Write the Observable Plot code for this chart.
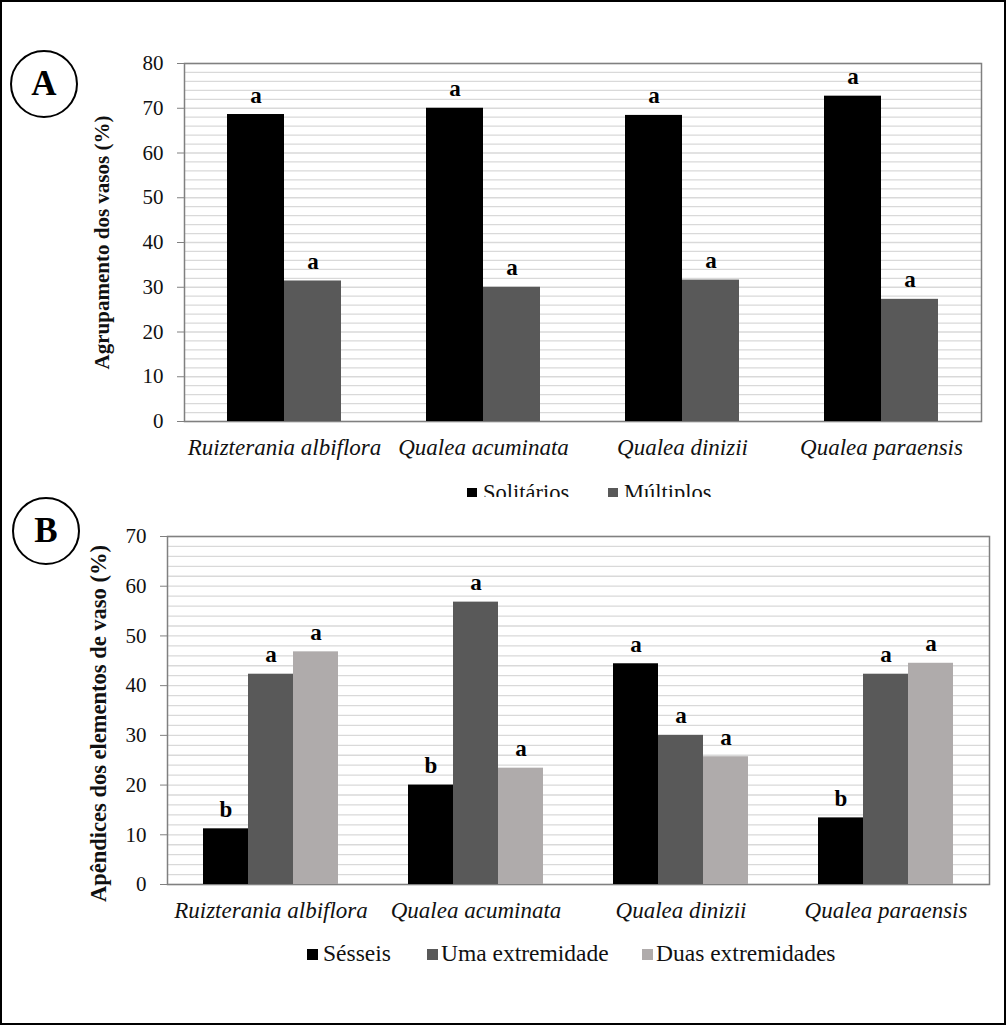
<!DOCTYPE html>
<html>
<head>
<meta charset="utf-8">
<script src="https://cdn.jsdelivr.net/npm/d3@7"></script>
<script src="https://cdn.jsdelivr.net/npm/@observablehq/plot@0.6"></script>
<style>
  body { margin: 0; background: #fff; }
  #fig { position: relative; width: 1006px; height: 1025px; overflow: hidden; background: #fff;
         font-family: "Liberation Serif", "Times New Roman", serif; }
  .outer { position: absolute; left: 0; top: 0; width: 1006px; height: 1025px; box-sizing: border-box;
           border: 2px solid #000; pointer-events: none; }
  .panel { position: absolute; left: 0; width: 1006px; }
  .panel svg { position: absolute; left: 0; top: 0; }
  .circ { position: absolute; box-sizing: border-box; border: 2px solid #000; border-radius: 50%;
          display: flex; align-items: center; justify-content: center;
          font: bold 35px "Liberation Serif", "Times New Roman", serif; color: #000; }
  .leg { position: absolute; left: 0; width: 1006px; overflow: hidden; }
  .sq { position: absolute; }
  .lt { position: absolute; color: #111; white-space: nowrap; font-family: "Liberation Serif", "Times New Roman", serif; }
  svg g[aria-label="y-axis label"] text { font-weight: bold; fill: #111; }
  #panelA svg g[aria-label="y-axis label"] text { font-size: 21px; }
  #panelB svg g[aria-label="y-axis label"] text { font-size: 22.5px; }
</style>
</head>
<body>
<div id="fig"></div>
<script>
// ---------- data ----------
const species = ["Ruizterania albiflora", "Qualea acuminata", "Qualea dinizii", "Qualea paraensis"];

const groupsA = ["Solitários", "Múltiplos"];
const solitarios = [68.6, 70.0, 68.4, 72.7];
const multiplos = [31.4, 30.0, 31.6, 27.3];
const lettersSolitarios = ["a", "a", "a", "a"];
const lettersMultiplos = ["a", "a", "a", "a"];

const groupsB = ["Sésseis", "Uma extremidade", "Duas extremidades"];
const sesseis = [11.2, 20.0, 44.4, 13.4];
const umaExtremidade = [42.3, 56.8, 30.0, 42.3];
const duasExtremidades = [46.8, 23.4, 25.7, 44.5];
const lettersSesseis = ["b", "b", "a", "b"];
const lettersUma = ["a", "a", "a", "a"];
const lettersDuas = ["a", "a", "a", "a"];

const yTicksA = [0, 10, 20, 30, 40, 50, 60, 70, 80];
const yTicksB = [0, 10, 20, 30, 40, 50, 60, 70];
const gridA = d3.range(0, 81, 2);
const gridB = d3.range(0, 71, 2);

const colorsA = ["#000000", "#595959"];
const colorsB = ["#000000", "#595959", "#afabab"];

const titleA = "Agrupamento dos vasos (%)";
const titleB = "Apêndices dos elementos de vaso (%)";

// ---------- tables ----------
const seriesA = [solitarios, multiplos];
const lettersA = [lettersSolitarios, lettersMultiplos];
const dataA = species.flatMap((s, i) => groupsA.map((g, j) => ({species: s, group: g, value: seriesA[j][i], letter: lettersA[j][i]})));

const seriesB = [sesseis, umaExtremidade, duasExtremidades];
const lettersB = [lettersSesseis, lettersUma, lettersDuas];
const dataB = species.flatMap((s, i) => groupsB.map((g, j) => ({species: s, group: g, value: seriesB[j][i], letter: lettersB[j][i]})));

const FONT = '"Liberation Serif", "Times New Roman", serif';
const fig = document.getElementById("fig");

function panel({id, top, data, groups, colors, yMax, ticks, grid, title, height, mt, mb, ml, mr, pad, labelOffset, labelShift}) {
  const common = {
    width: 1006, height,
    marginLeft: ml, marginRight: mr, marginTop: mt, marginBottom: mb,
    style: {fontFamily: FONT, fontSize: "21px", color: "#111", background: "transparent", overflow: "visible"}
  };
  // background layer: grid, frame, y axis
  const back = Plot.plot({
    ...common,
    y: {domain: [0, yMax]},
    marks: [
      Plot.ruleY(grid, {stroke: "#d9d9d9", strokeWidth: 1.3}),
      Plot.frame({stroke: "#808080", strokeWidth: 1.5}),
      Plot.axisY(ticks, {tickSize: 7, tickPadding: 14, stroke: "#808080", fill: "#111", fontSize: 21,
                         label: title, labelAnchor: "center", labelOffset, labelArrow: "none"})
    ]
  });
  if (labelShift) {
    const g = back.querySelector('g[aria-label="y-axis label"]');
    if (g) g.setAttribute("transform", ((g.getAttribute("transform") || "") + ` translate(0,${labelShift})`).trim());
  }
  // foreground layer: grouped bars
  const front = Plot.plot({
    ...common,
    fx: {domain: species, paddingInner: pad, paddingOuter: pad / 2, label: null},
    x: {domain: groups, padding: 0, axis: null},
    y: {domain: [0, yMax], axis: null},
    color: {domain: groups, range: colors},
    marks: [
      Plot.barY(data, {fx: "species", x: "group", y: "value", fill: "group"}),
      Plot.text(data, {fx: "species", x: "group", y: "value", text: "letter", lineAnchor: "bottom", dy: -12,
                       fontWeight: "bold", fontSize: 23, fill: "#000"}),
      Plot.axisFx({anchor: "bottom", tickSize: 0, tickPadding: 17, fontStyle: "italic", fontSize: 23, fill: "#111", label: null})
    ]
  });
  const w = document.createElement("div");
  w.id = id;
  w.className = "panel"; w.style.top = top + "px"; w.style.height = height + "px";
  w.appendChild(back); w.appendChild(front);
  fig.appendChild(w);
}

panel({id: "panelA", top: 0, data: dataA, groups: groupsA, colors: colorsA, yMax: 80, ticks: yTicksA, grid: gridA, title: titleA,
       height: 470, mt: 63, mb: 49, ml: 184, mr: 25, pad: 0.428, labelOffset: 90, labelShift: 0});
panel({id: "panelB", top: 500, data: dataB, groups: groupsB, colors: colorsB, yMax: 70, ticks: yTicksB, grid: gridB, title: titleB,
       height: 430, mt: 36, mb: 46, ml: 167, mr: 17, pad: 0.333, labelOffset: 77, labelShift: 13});

// ---------- legends ----------
function legend(groups, colors, top, height, sqX, txtX, sqTop, sqSize, txtTop, fontSize, lineHeight) {
  const d = document.createElement("div");
  d.className = "leg"; d.style.top = top + "px"; d.style.height = height + "px";
  groups.forEach((g, i) => {
    const s = document.createElement("div");
    s.className = "sq";
    s.style.left = sqX[i] + "px"; s.style.top = (sqTop - top) + "px";
    s.style.width = sqSize + "px"; s.style.height = sqSize + "px"; s.style.background = colors[i];
    d.appendChild(s);
    const t = document.createElement("div");
    t.className = "lt"; t.textContent = g;
    t.style.fontSize = fontSize + "px"; t.style.lineHeight = lineHeight + "px";
    t.style.left = txtX[i] + "px"; t.style.top = (txtTop - top) + "px";
    d.appendChild(t);
  });
  fig.appendChild(d);
}
legend(groupsA, colorsA, 470, 27, [467, 608], [483, 624], 488, 10, 480, 22.5, 26);
legend(groupsB, colorsB, 935, 40, [307, 427, 642], [323, 441, 656], 949, 11, 940, 23.5, 27);

// ---------- panel letters ----------
function circle(label, cx, cy, r) {
  const c = document.createElement("div");
  c.className = "circ"; c.textContent = label;
  c.style.left = (cx - r) + "px"; c.style.top = (cy - r) + "px";
  c.style.width = 2 * r + "px"; c.style.height = 2 * r + "px";
  fig.appendChild(c);
}
circle("A", 44, 84, 34);
circle("B", 46, 531, 34);

const outer = document.createElement("div");
outer.className = "outer"; fig.appendChild(outer);
</script>
</body>
</html>
